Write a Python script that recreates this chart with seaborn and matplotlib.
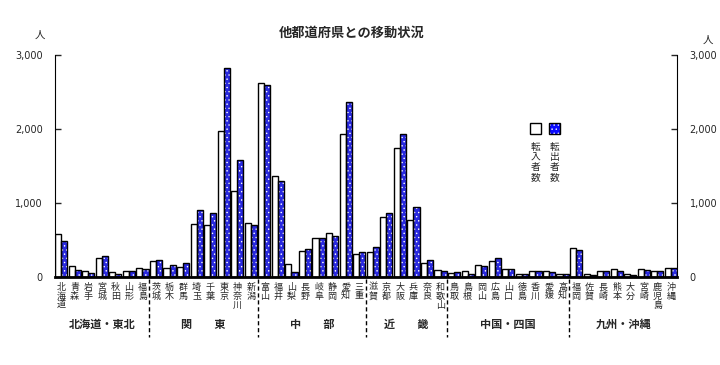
"""他都道府県との移動状況の棒グラフ."""

import matplotlib
matplotlib.use("Agg")
import matplotlib.pyplot as plt
import matplotlib.transforms as mtransforms
from matplotlib.patches import Rectangle
import pandas as pd
import seaborn as sns

prefectures = [
    "北海道", "青森", "岩手", "宮城", "秋田", "山形", "福島",
    "茨城", "栃木", "群馬", "埼玉", "千葉", "東京", "神奈川", "新潟",
    "富山", "福井", "山梨", "長野", "岐阜", "静岡", "愛知", "三重",
    "滋賀", "京都", "大阪", "兵庫", "奈良", "和歌山",
    "鳥取", "島根", "岡山", "広島", "山口", "徳島", "香川", "愛媛", "高知",
    "福岡", "佐賀", "長崎", "熊本", "大分", "宮崎", "鹿児島", "沖縄",
]
tennyu = [
    581, 149, 81, 257, 68, 81, 122,
    216, 122, 135, 716, 703, 1973, 1162, 730,
    2617, 1360, 171, 351, 522, 590, 1928, 311,
    333, 806, 1743, 766, 185, 90,
    54, 81, 162, 216, 104, 41, 81, 81, 41,
    387, 41, 81, 104, 41, 104, 81, 122,
]
tenshutsu = [
    482, 95, 54, 279, 41, 81, 104,
    230, 162, 189, 905, 864, 2824, 1581, 703,
    2590, 1293, 63, 378, 522, 550, 2360, 333,
    401, 860, 1928, 941, 225, 81,
    63, 36, 149, 257, 104, 41, 81, 68, 41,
    360, 23, 81, 81, 32, 90, 81, 122,
]
regions = ["北海道・東北", "関　　東", "中　　部", "近　　畿", "中国・四国", "九州・沖縄"]
region_sizes = [7, 8, 8, 6, 9, 8]
series = ["転入者数", "転出者数"]
yticks = [0, 1000, 2000, 3000]

BLUE = "#0a0aff"
HATCH = "...."

sns.set_style("white")
plt.rcParams["font.family"] = ["Noto Sans CJK JP", "DejaVu Sans"]
plt.rcParams["hatch.linewidth"] = 0.5

df = pd.DataFrame({
    "pref": prefectures * 2,
    "value": tennyu + tenshutsu,
    "kind": [series[0]] * len(prefectures) + [series[1]] * len(prefectures),
})

fig = plt.figure(figsize=(7.2, 3.65), dpi=100)
ax = fig.add_axes([0.0764, 0.241, 0.8639, 0.608])

# Fill layer
sns.barplot(data=df, x="pref", y="value", hue="kind", order=prefectures,
            hue_order=series, palette=["white", BLUE], width=0.9, gap=0,
            linewidth=0, legend=False, ax=ax)
for bar in ax.containers[1]:
    bar.set_hatch(HATCH)
    bar.set_edgecolor("white")
    bar.set_linewidth(0)
# Outline layer
sns.barplot(data=df, x="pref", y="value", hue="kind", order=prefectures,
            hue_order=series, palette=["black", "black"], width=0.9, gap=0,
            fill=False, linewidth=1, legend=False, ax=ax)

ax.set_xlim(-0.45, len(prefectures) - 0.55)
ax.set_ylim(0, 3000)
ax.set_xlabel("")
ax.set_ylabel("")
ax.set_yticks(yticks)
ax.set_yticklabels([f"{v:,}" for v in yticks], fontsize=7, family="DejaVu Sans")
ax.set_xticks(range(len(prefectures)))
ax.set_xticklabels(["\n".join(p) for p in prefectures], fontsize=6.5,
                   linespacing=1.0, va="top", rotation=0)
ax.tick_params(axis="x", length=0, pad=4, labelrotation=0)
ax.tick_params(axis="y", direction="in", length=4, width=1, left=True,
               right=True, labelleft=True, labelright=True, pad=9)

ax.spines["top"].set_visible(False)
ax.spines["bottom"].set_linewidth(2)
for side in ["left", "right", "bottom"]:
    ax.spines[side].set_color("black")

# Region separators and names
trans = mtransforms.blended_transform_factory(ax.transData, ax.transAxes)
start = 0
for i, (name, size) in enumerate(zip(regions, region_sizes)):
    end = start + size
    center = (start + end - 1) / 2
    ax.text(center, -0.215, name, transform=trans, ha="center", va="center",
            fontsize=8, fontweight="bold")
    if i < len(regions) - 1:
        ax.plot([end - 0.5, end - 0.5], [-0.01, -0.27], transform=trans,
                color="black", lw=1, ls=(0, (3, 2)), clip_on=False)
    start = end

# Legend
for x0, fc, label in [(0.764, "white", series[0]), (0.794, BLUE, series[1])]:
    if fc == BLUE:
        ax.add_patch(Rectangle((x0, 0.644), 0.0177, 0.05, transform=ax.transAxes,
                               facecolor=fc, edgecolor="white", lw=0,
                               hatch=HATCH, clip_on=False))
    ax.add_patch(Rectangle((x0, 0.644), 0.0177, 0.05, transform=ax.transAxes,
                           facecolor="white" if fc == "white" else "none",
                           edgecolor="black", lw=1, clip_on=False))
    ax.text(x0 + 0.0088, 0.61, "\n".join(label), transform=ax.transAxes,
            ha="center", va="top", fontsize=7, linespacing=1.0)

fig.text(0.488, 0.909, "他都道府県との移動状況", ha="center", va="center",
         fontsize=9.5, fontweight="bold")
fig.text(0.056, 0.904, "人", ha="center", va="center", fontsize=7.5)
fig.text(0.983, 0.89, "人", ha="center", va="center", fontsize=7.5)

fig.savefig("out.png", dpi=100)
